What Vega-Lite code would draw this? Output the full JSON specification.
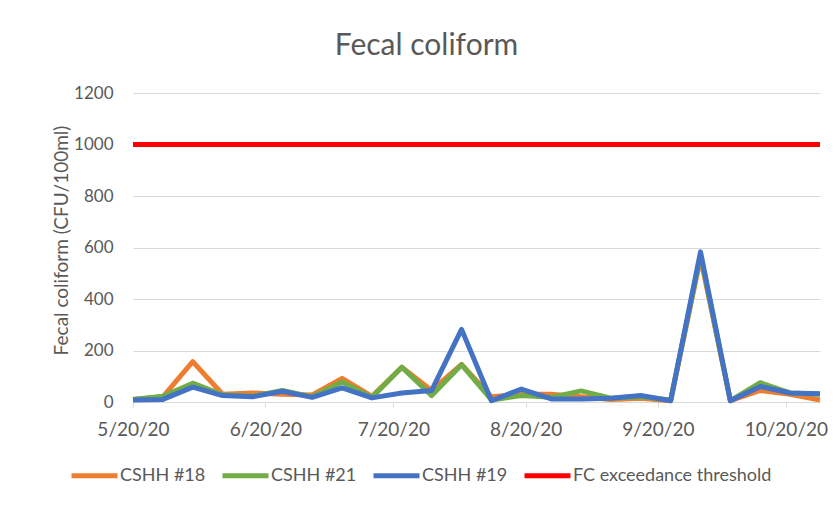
{
  "$schema": "https://vega.github.io/schema/vega-lite/v6.json",
  "autosize": {"type": "none"},
  "width": 687,
  "height": 309,
  "padding": {"left": 133, "top": 93, "right": 16, "bottom": 104},
  "background": "white",
  "title": {
    "text": "Fecal coliform",
    "font": "Lato",
    "fontSize": 30,
    "fontWeight": "normal",
    "color": "#595959",
    "anchor": "middle",
    "frame": "group",
    "dx": -50,
    "dy": 37,
    "baseline": "alphabetic",
    "offset": 36
  },
  "data": {
    "values": [
      {"date": "2020/05/20", "series": "CSHH #18", "value": 10},
      {"date": "2020/05/20", "series": "CSHH #21", "value": 10},
      {"date": "2020/05/20", "series": "CSHH #19", "value": 8},
      {"date": "2020/05/20", "series": "FC exceedance threshold", "value": 1000},
      {"date": "2020/05/27", "series": "CSHH #18", "value": 20},
      {"date": "2020/05/27", "series": "CSHH #21", "value": 22},
      {"date": "2020/05/27", "series": "CSHH #19", "value": 10},
      {"date": "2020/06/03", "series": "CSHH #18", "value": 157},
      {"date": "2020/06/03", "series": "CSHH #21", "value": 73},
      {"date": "2020/06/03", "series": "CSHH #19", "value": 58},
      {"date": "2020/06/10", "series": "CSHH #18", "value": 30},
      {"date": "2020/06/10", "series": "CSHH #21", "value": 28},
      {"date": "2020/06/10", "series": "CSHH #19", "value": 25},
      {"date": "2020/06/17", "series": "CSHH #18", "value": 35},
      {"date": "2020/06/17", "series": "CSHH #21", "value": 22},
      {"date": "2020/06/17", "series": "CSHH #19", "value": 20},
      {"date": "2020/06/24", "series": "CSHH #18", "value": 30},
      {"date": "2020/06/24", "series": "CSHH #21", "value": 45},
      {"date": "2020/06/24", "series": "CSHH #19", "value": 42},
      {"date": "2020/07/01", "series": "CSHH #18", "value": 27},
      {"date": "2020/07/01", "series": "CSHH #21", "value": 20},
      {"date": "2020/07/01", "series": "CSHH #19", "value": 18},
      {"date": "2020/07/08", "series": "CSHH #18", "value": 92},
      {"date": "2020/07/08", "series": "CSHH #21", "value": 78},
      {"date": "2020/07/08", "series": "CSHH #19", "value": 55},
      {"date": "2020/07/15", "series": "CSHH #18", "value": 22},
      {"date": "2020/07/15", "series": "CSHH #21", "value": 18},
      {"date": "2020/07/15", "series": "CSHH #19", "value": 16},
      {"date": "2020/07/22", "series": "CSHH #18", "value": 135},
      {"date": "2020/07/22", "series": "CSHH #21", "value": 135},
      {"date": "2020/07/22", "series": "CSHH #19", "value": 35},
      {"date": "2020/07/29", "series": "CSHH #18", "value": 45},
      {"date": "2020/07/29", "series": "CSHH #21", "value": 25},
      {"date": "2020/07/29", "series": "CSHH #19", "value": 45},
      {"date": "2020/08/05", "series": "CSHH #18", "value": 146},
      {"date": "2020/08/05", "series": "CSHH #21", "value": 145},
      {"date": "2020/08/05", "series": "CSHH #19", "value": 282},
      {"date": "2020/08/12", "series": "CSHH #18", "value": 20},
      {"date": "2020/08/12", "series": "CSHH #21", "value": 8},
      {"date": "2020/08/12", "series": "CSHH #19", "value": 5},
      {"date": "2020/08/19", "series": "CSHH #18", "value": 30},
      {"date": "2020/08/19", "series": "CSHH #21", "value": 25},
      {"date": "2020/08/19", "series": "CSHH #19", "value": 50},
      {"date": "2020/08/26", "series": "CSHH #18", "value": 30},
      {"date": "2020/08/26", "series": "CSHH #21", "value": 18},
      {"date": "2020/08/26", "series": "CSHH #19", "value": 12},
      {"date": "2020/09/02", "series": "CSHH #18", "value": 20},
      {"date": "2020/09/02", "series": "CSHH #21", "value": 43},
      {"date": "2020/09/02", "series": "CSHH #19", "value": 12},
      {"date": "2020/09/09", "series": "CSHH #18", "value": 10},
      {"date": "2020/09/09", "series": "CSHH #21", "value": 15},
      {"date": "2020/09/09", "series": "CSHH #19", "value": 15},
      {"date": "2020/09/16", "series": "CSHH #18", "value": 15},
      {"date": "2020/09/16", "series": "CSHH #21", "value": 20},
      {"date": "2020/09/16", "series": "CSHH #19", "value": 25},
      {"date": "2020/09/23", "series": "CSHH #18", "value": 5},
      {"date": "2020/09/23", "series": "CSHH #21", "value": 8},
      {"date": "2020/09/23", "series": "CSHH #19", "value": 5},
      {"date": "2020/09/30", "series": "CSHH #18", "value": 560},
      {"date": "2020/09/30", "series": "CSHH #21", "value": 570},
      {"date": "2020/09/30", "series": "CSHH #19", "value": 583},
      {"date": "2020/10/07", "series": "CSHH #18", "value": 5},
      {"date": "2020/10/07", "series": "CSHH #21", "value": 5},
      {"date": "2020/10/07", "series": "CSHH #19", "value": 5},
      {"date": "2020/10/14", "series": "CSHH #18", "value": 45},
      {"date": "2020/10/14", "series": "CSHH #21", "value": 75},
      {"date": "2020/10/14", "series": "CSHH #19", "value": 60},
      {"date": "2020/10/21", "series": "CSHH #18", "value": 30},
      {"date": "2020/10/21", "series": "CSHH #21", "value": 35},
      {"date": "2020/10/21", "series": "CSHH #19", "value": 35},
      {"date": "2020/10/28", "series": "CSHH #18", "value": 8},
      {"date": "2020/10/28", "series": "CSHH #21", "value": 30},
      {"date": "2020/10/28", "series": "CSHH #19", "value": 32},
      {"date": "2020/10/28", "series": "FC exceedance threshold", "value": 1000}
    ]
  },
  "mark": {"type": "line", "strokeWidth": 5, "strokeJoin": "round"},
  "encoding": {
    "x": {
      "field": "date",
      "type": "temporal",
      "scale": {
        "domain": [
          {"year": 2020, "month": 5, "date": 20},
          {"year": 2020, "month": 10, "date": 28}
        ],
        "nice": false,
        "padding": 0
      },
      "axis": {
        "title": null,
        "values": [
          {"year": 2020, "month": 5, "date": 20},
          {"year": 2020, "month": 6, "date": 20},
          {"year": 2020, "month": 7, "date": 20},
          {"year": 2020, "month": 8, "date": 20},
          {"year": 2020, "month": 9, "date": 20},
          {"year": 2020, "month": 10, "date": 20}
        ],
        "format": "%-m/%-d/%y",
        "grid": false,
        "domain": true,
        "domainColor": "#d9d9d9",
        "ticks": true,
        "tickSize": 5,
        "tickColor": "#d9d9d9",
        "labelFontSize": 19,
        "labelPadding": 13,
        "labelFlush": false,
        "labelOverlap": false
      }
    },
    "y": {
      "field": "value",
      "type": "quantitative",
      "scale": {"domain": [0, 1200], "nice": false},
      "axis": {
        "title": "Fecal coliform (CFU/100ml)",
        "values": [0, 200, 400, 600, 800, 1000, 1200],
        "format": "d",
        "grid": true,
        "gridColor": "#d9d9d9",
        "domain": false,
        "ticks": false,
        "tickSize": 0,
        "labelFontSize": 17,
        "labelPadding": 20,
        "titleFontSize": 19,
        "titleFontWeight": "normal",
        "titleAngle": -90,
        "titleX": -72,
        "titleY": 147,
        "titleAlign": "center",
        "titleBaseline": "middle"
      }
    },
    "color": {
      "field": "series",
      "type": "nominal",
      "scale": {
        "domain": ["CSHH #18", "CSHH #21", "CSHH #19", "FC exceedance threshold"],
        "range": ["#ED7D31", "#70AD47", "#4472C4", "#FF0000"]
      },
      "legend": {
        "title": null,
        "orient": "none",
        "direction": "horizontal",
        "legendX": -64,
        "legendY": 357,
        "symbolType": "stroke",
        "symbolStrokeWidth": 5,
        "symbolSize": 2116,
        "labelFontSize": 18,
        "labelOffset": 0,
        "labelLimit": 400,
        "columnPadding": 6,
        "labelColor": "#595959",
        "labelFont": "Lato"
      }
    }
  },
  "config": {
    "view": {"stroke": null},
    "axis": {
      "labelFont": "Lato",
      "titleFont": "Lato",
      "labelColor": "#595959",
      "titleColor": "#595959"
    }
  }
}
